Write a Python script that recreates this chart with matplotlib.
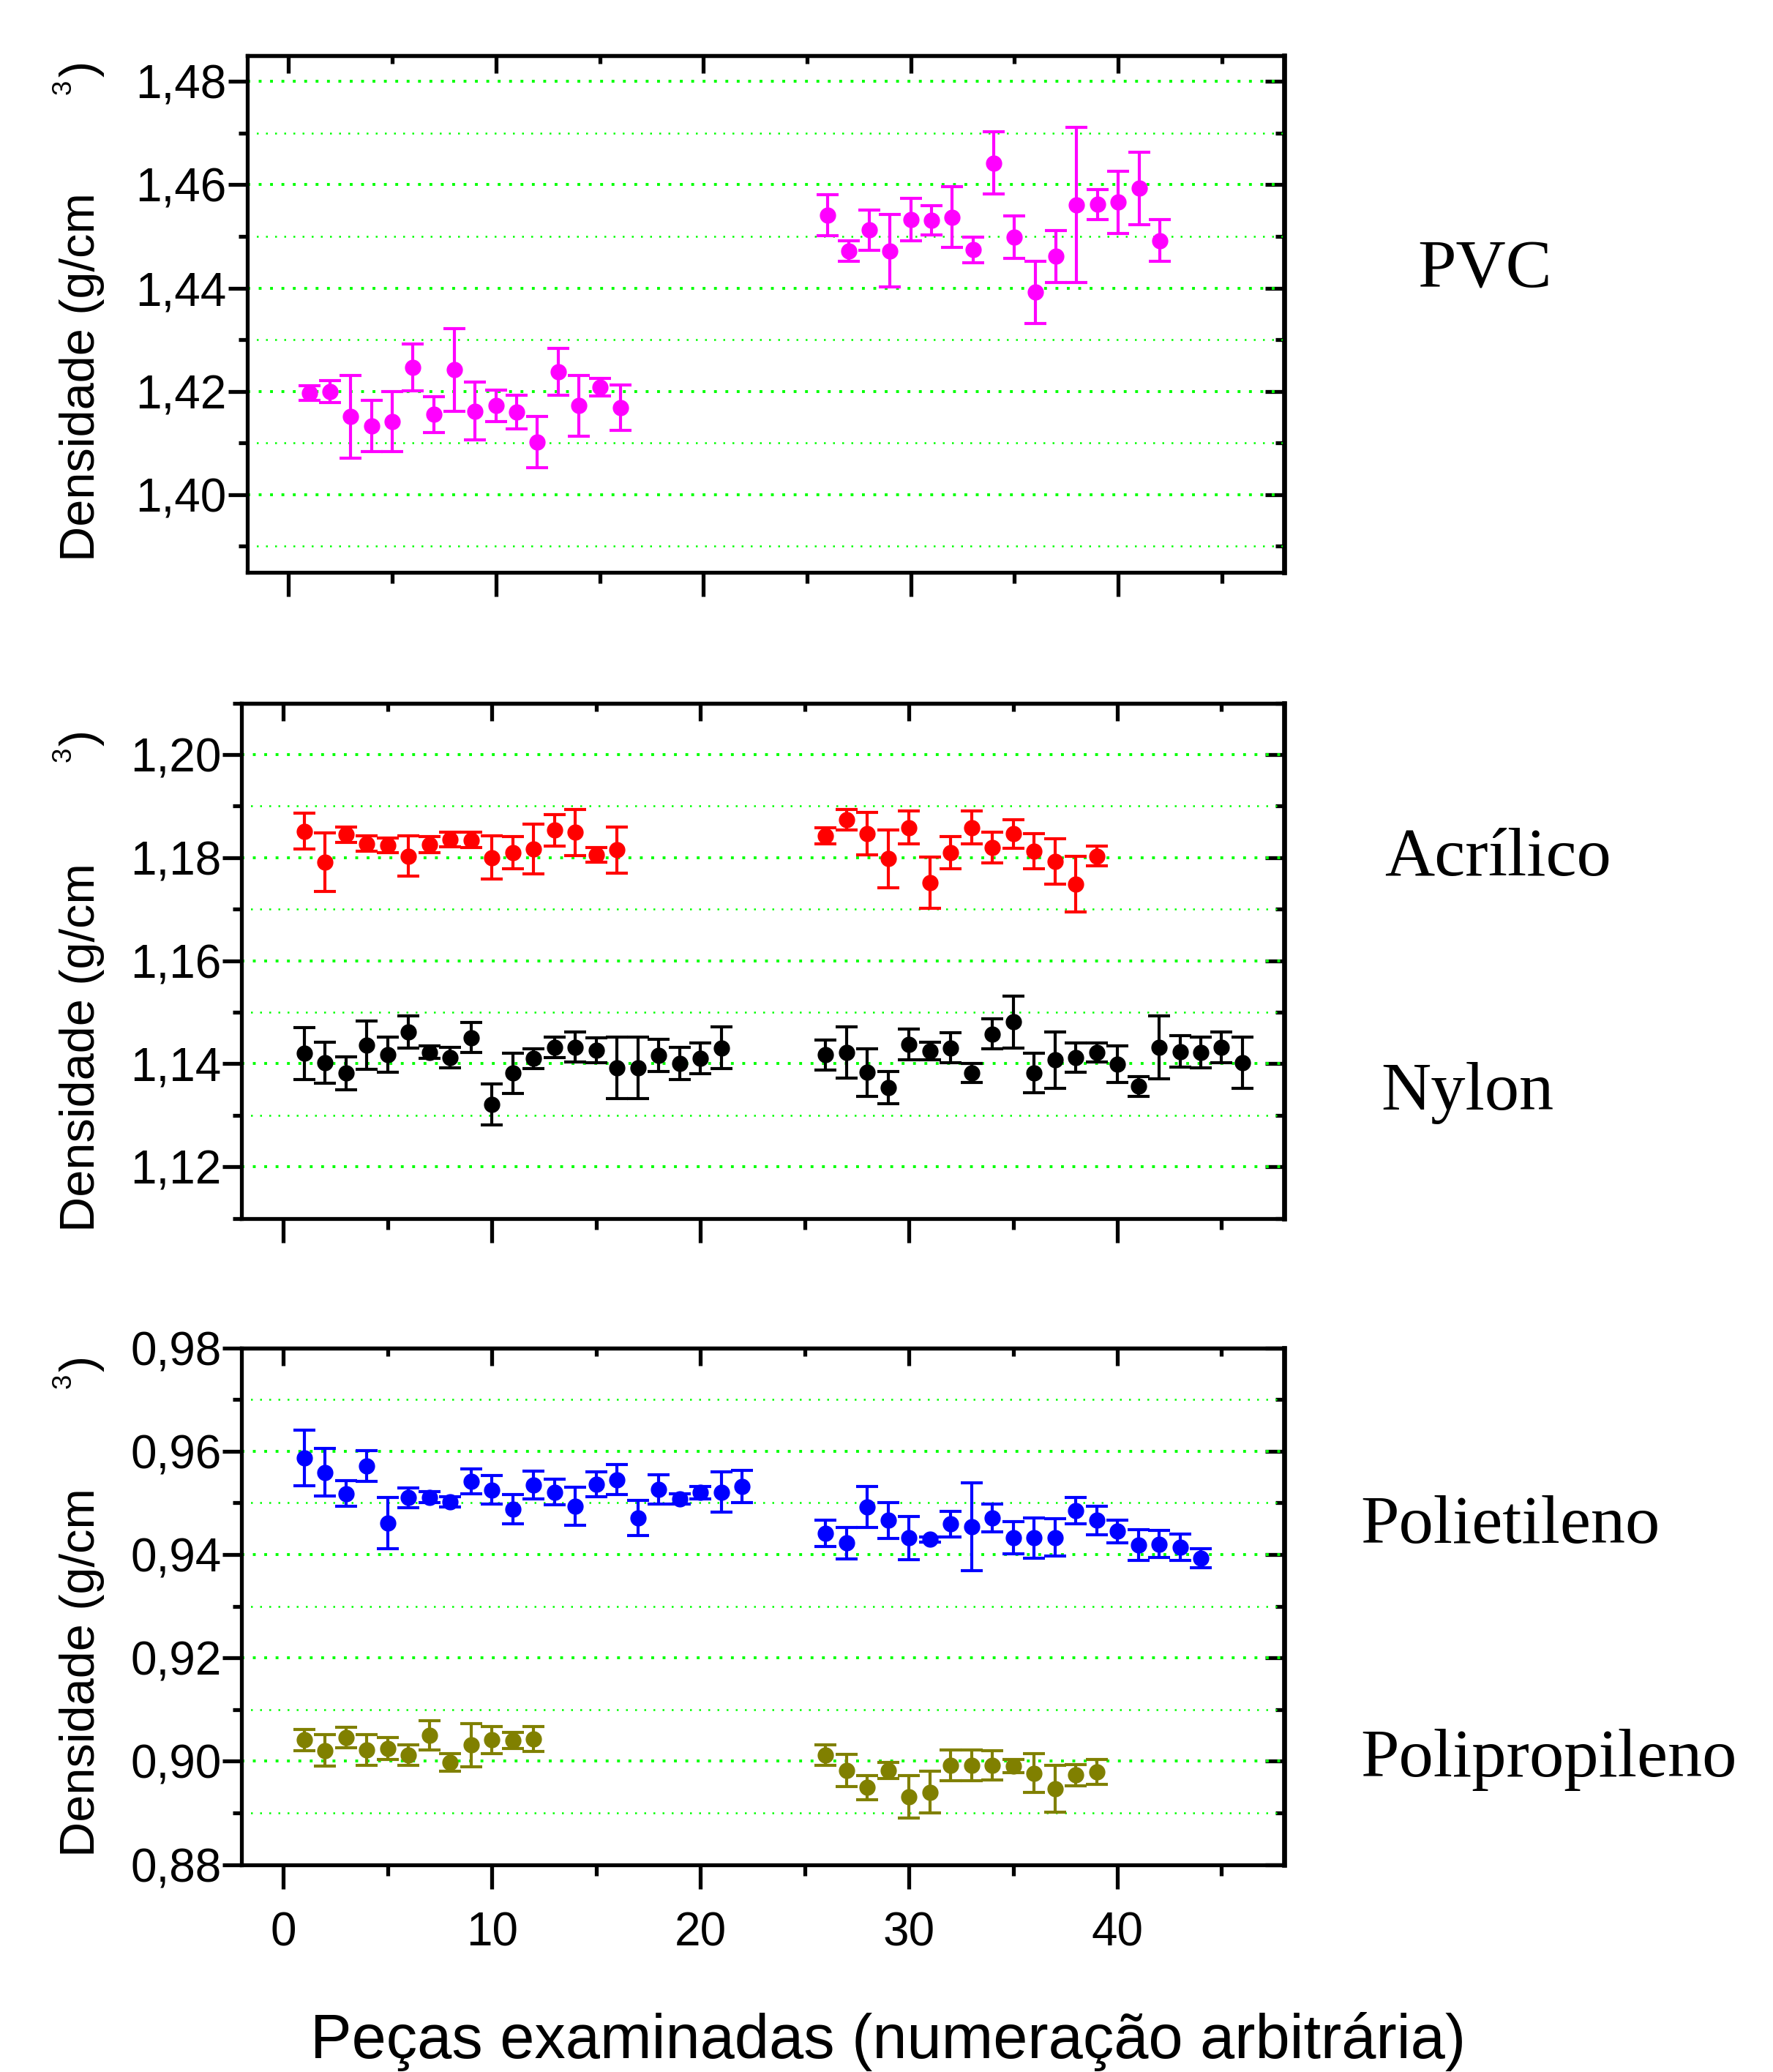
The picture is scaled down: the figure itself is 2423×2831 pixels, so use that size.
import matplotlib
matplotlib.use("Agg")
import matplotlib.pyplot as plt
from matplotlib.ticker import MultipleLocator, FuncFormatter, NullFormatter

# ---- data ----
pvc_x = [1, 2, 3, 4, 5, 6, 7, 8, 9, 10, 11, 12, 13, 14, 15, 16,
         26, 27, 28, 29, 30, 31, 32, 33, 34, 35, 36, 37, 38, 39, 40, 41, 42]
pvc_y = [1.4197, 1.4200, 1.4151, 1.4133, 1.4141, 1.4246, 1.4155, 1.4242,
         1.4162, 1.4172, 1.4160, 1.4102, 1.4238, 1.4172, 1.4208, 1.4168,
         1.4541, 1.4472, 1.4512, 1.4472, 1.4533, 1.4531, 1.4537, 1.4474,
         1.4642, 1.4498, 1.4392, 1.4461, 1.4561, 1.4562, 1.4566, 1.4593, 1.4492]
pvc_err = [0.0014, 0.0021, 0.0080, 0.0050, 0.0058, 0.0045, 0.0035, 0.0080,
           0.0056, 0.0030, 0.0033, 0.0050, 0.0045, 0.0059, 0.0017, 0.0044,
           0.0040, 0.0020, 0.0039, 0.0070, 0.0041, 0.0029, 0.0059, 0.0025,
           0.0060, 0.0041, 0.0060, 0.0050, 0.0150, 0.0029, 0.0060, 0.0070, 0.0040]

acr_x = [1, 2, 3, 4, 5, 6, 7, 8, 9, 10, 11, 12, 13, 14, 15, 16,
         26, 27, 28, 29, 30, 31, 32, 33, 34, 35, 36, 37, 38, 39]
acr_y = [1.1851, 1.1791, 1.1845, 1.1827, 1.1824, 1.1803, 1.1825, 1.1835,
         1.1834, 1.1800, 1.1810, 1.1817, 1.1853, 1.1849, 1.1805, 1.1815,
         1.1842, 1.1873, 1.1847, 1.1798, 1.1858, 1.1751, 1.1810, 1.1858,
         1.1820, 1.1846, 1.1812, 1.1793, 1.1748, 1.1803]
acr_err = [0.0035, 0.0057, 0.0015, 0.0015, 0.0014, 0.0039, 0.0016, 0.0014,
           0.0015, 0.0042, 0.0031, 0.0048, 0.0031, 0.0045, 0.0014, 0.0045,
           0.0016, 0.0020, 0.0041, 0.0056, 0.0032, 0.0050, 0.0031, 0.0032,
           0.0030, 0.0028, 0.0034, 0.0044, 0.0054, 0.0019]

nyl_x = [1, 2, 3, 4, 5, 6, 7, 8, 9, 10, 11, 12, 13, 14, 15, 16, 17, 18, 19, 20, 21,
         26, 27, 28, 29, 30, 31, 32, 33, 34, 35, 36, 37, 38, 39, 40, 41, 42, 43, 44, 45, 46]
nyl_y = [1.1420, 1.1402, 1.1382, 1.1436, 1.1418, 1.1462, 1.1422, 1.1412,
         1.1451, 1.1321, 1.1382, 1.1410, 1.1432, 1.1432, 1.1426, 1.1392,
         1.1392, 1.1416, 1.1401, 1.1411, 1.1431,
         1.1417, 1.1422, 1.1383, 1.1354, 1.1437, 1.1425, 1.1431, 1.1382,
         1.1458, 1.1481, 1.1382, 1.1407, 1.1412, 1.1422, 1.1399, 1.1356,
         1.1432, 1.1424, 1.1422, 1.1432, 1.1402]
nyl_err = [0.0050, 0.0040, 0.0032, 0.0047, 0.0034, 0.0031, 0.0012, 0.0020,
           0.0029, 0.0040, 0.0039, 0.0019, 0.0020, 0.0029, 0.0024, 0.0060,
           0.0060, 0.0031, 0.0031, 0.0030, 0.0040,
           0.0029, 0.0050, 0.0046, 0.0031, 0.0030, 0.0017, 0.0029, 0.0019,
           0.0029, 0.0050, 0.0038, 0.0054, 0.0029, 0.0019, 0.0035, 0.0019,
           0.0061, 0.0031, 0.0030, 0.0030, 0.0050]

pe_x = [1, 2, 3, 4, 5, 6, 7, 8, 9, 10, 11, 12, 13, 14, 15, 16, 17, 18, 19, 20, 21, 22,
        26, 27, 28, 29, 30, 31, 32, 33, 34, 35, 36, 37, 38, 39, 40, 41, 42, 43, 44]
pe_y = [0.9587, 0.9559, 0.9518, 0.9571, 0.9461, 0.9510, 0.9511, 0.9502,
        0.9542, 0.9525, 0.9488, 0.9535, 0.9521, 0.9493, 0.9536, 0.9545,
        0.9471, 0.9526, 0.9507, 0.9520, 0.9521, 0.9532,
        0.9441, 0.9422, 0.9492, 0.9466, 0.9432, 0.9429, 0.9459, 0.9454,
        0.9471, 0.9432, 0.9432, 0.9433, 0.9485, 0.9466, 0.9445, 0.9418,
        0.9420, 0.9414, 0.9393]
pe_err = [0.0054, 0.0046, 0.0025, 0.0030, 0.0050, 0.0019, 0.0011, 0.0010,
          0.0024, 0.0028, 0.0028, 0.0027, 0.0025, 0.0037, 0.0024, 0.0029,
          0.0034, 0.0028, 0.0010, 0.0012, 0.0039, 0.0031,
          0.0025, 0.0030, 0.0040, 0.0035, 0.0042, 0.0005, 0.0025, 0.0085,
          0.0027, 0.0031, 0.0039, 0.0036, 0.0026, 0.0028, 0.0022, 0.0030,
          0.0026, 0.0026, 0.0018]

pp_x = [1, 2, 3, 4, 5, 6, 7, 8, 9, 10, 11, 12,
        26, 27, 28, 29, 30, 31, 32, 33, 34, 35, 36, 37, 38, 39]
pp_y = [0.9041, 0.9021, 0.9046, 0.9022, 0.9025, 0.9012, 0.9050, 0.8997,
        0.9031, 0.9041, 0.9040, 0.9043,
        0.9012, 0.8982, 0.8949, 0.8982, 0.8931, 0.8940, 0.8992, 0.8992,
        0.8992, 0.8991, 0.8977, 0.8947, 0.8973, 0.8979]
pp_err = [0.0020, 0.0030, 0.0020, 0.0030, 0.0021, 0.0020, 0.0028, 0.0017,
          0.0042, 0.0026, 0.0016, 0.0024,
          0.0020, 0.0031, 0.0023, 0.0016, 0.0041, 0.0040, 0.0030, 0.0030,
          0.0028, 0.0013, 0.0038, 0.0045, 0.0021, 0.0024]

labels = ["PVC", "Acrílico", "Nylon", "Polietileno", "Polipropileno"]
ylabel = "Densidade (g/cm"
xlabel = "Peças examinadas (numeração arbitrária)"

plt.rcParams["font.family"] = ["Liberation Sans", "DejaVu Sans"]
serif = ["Liberation Serif", "DejaVu Serif"]
ylab_size, xlab_size, xtick_size = 48, 61, 46

# layout in reference display units
W, H = 1342.0, 1568.0
fig = plt.figure(figsize=(24.23, 28.31), dpi=100)

panels = [
    dict(box=(187, 972, 42, 433), ylim=(1.385, 1.485),
         series=[(pvc_x, pvc_y, pvc_err, "#ff00ff")],
         lab3=(48, 66), paren=(62, 52), ybot=425),
    dict(box=(183, 972, 532, 922), ylim=(1.11, 1.21),
         series=[(acr_x, acr_y, acr_err, "#ff0000"), (nyl_x, nyl_y, nyl_err, "#000000")],
         lab3=(48, 571), paren=(62, 558), ybot=932),
    dict(box=(183, 972, 1020, 1411), ylim=(0.88, 0.98),
         series=[(pe_x, pe_y, pe_err, "#0000ff"), (pp_x, pp_y, pp_err, "#808000")],
         lab3=(48, 1045), paren=(62, 1032), ybot=1405),
]

comma = FuncFormatter(lambda v, p: f"{v:.2f}".replace(".", ","))
spine_w = 3.8

for i, p in enumerate(panels):
    l, r, t, b = p["box"]
    ax = fig.add_axes([l / W, 1 - b / H, (r - l) / W, (b - t) / H])
    ax.set_xlim(-2, 48)
    ax.set_ylim(*p["ylim"])
    ax.xaxis.set_major_locator(MultipleLocator(10))
    ax.xaxis.set_minor_locator(MultipleLocator(5))
    ax.yaxis.set_major_locator(MultipleLocator(0.02))
    ax.yaxis.set_minor_locator(MultipleLocator(0.01))
    ax.yaxis.set_major_formatter(comma)

    ax.grid(axis="y", which="major", color="#00ff00", linestyle=(0, (1, 3)), linewidth=2.8)
    ax.grid(axis="y", which="minor", color="#00ff00", linestyle=(0, (1, 4)), linewidth=1.8)
    ax.set_axisbelow(True)

    ax.tick_params(axis="y", which="major", direction="out", length=19, width=3.8,
                   left=True, right=False, labelsize=46, pad=1)
    ax.tick_params(axis="y", which="minor", direction="out", length=9, width=3.8,
                   left=True, right=False)
    ax.tick_params(axis="x", which="major", direction="out", length=24, width=3.8,
                   bottom=True, top=False, labelbottom=(i == 2), labelsize=xtick_size, pad=22)
    ax.tick_params(axis="x", which="minor", direction="out", length=11, width=3.8,
                   bottom=True, top=False)
    for s in ax.spines.values():
        s.set_linewidth(spine_w)

    # right and top ticks point inward
    sy = ax.secondary_yaxis("right")
    sy.yaxis.set_major_locator(MultipleLocator(0.02))
    sy.yaxis.set_minor_locator(MultipleLocator(0.01))
    sy.yaxis.set_major_formatter(NullFormatter())
    sy.tick_params(which="major", direction="in", length=19, width=3.8)
    sy.tick_params(which="minor", direction="in", length=9, width=3.8)
    sy.spines["right"].set_linewidth(spine_w + 1.0)

    sx = ax.secondary_xaxis("top")
    sx.xaxis.set_major_locator(MultipleLocator(10))
    sx.xaxis.set_minor_locator(MultipleLocator(5))
    sx.xaxis.set_major_formatter(NullFormatter())
    sx.tick_params(which="major", direction="in", length=17, width=3.8)
    sx.tick_params(which="minor", direction="in", length=8, width=3.8)
    sx.spines["top"].set_linewidth(spine_w)

    for xs, ys, es, c in p["series"]:
        ax.errorbar(xs, ys, yerr=es, fmt="o", color=c, ms=15, capsize=11,
                    elinewidth=3.0, capthick=3.0, zorder=3)

    # y label with the detached superscript and bracket
    fig.text(62 / W, 1 - p["ybot"] / H, ylabel, rotation=90, ha="center", va="bottom",
             size=ylab_size)
    fig.text(p["lab3"][0] / W, 1 - p["lab3"][1] / H, "3", rotation=90, ha="center",
             va="center", size=ylab_size * 0.55)
    fig.text(p["paren"][0] / W, 1 - p["paren"][1] / H, ")", rotation=90, ha="center",
             va="center", size=ylab_size)

# material names
label_pos = [(1073, 205), (1048, 650), (1045, 827), (1030, 1155), (1030, 1332)]
for name, (x, y) in zip(labels, label_pos):
    fig.text(x / W, 1 - y / H, name, ha="left", va="center", size=68, family=serif)

fig.text(672 / W, 1 - 1545 / H, xlabel, ha="center", va="center", size=xlab_size)

fig.savefig("out.png", dpi=100, facecolor="white")
